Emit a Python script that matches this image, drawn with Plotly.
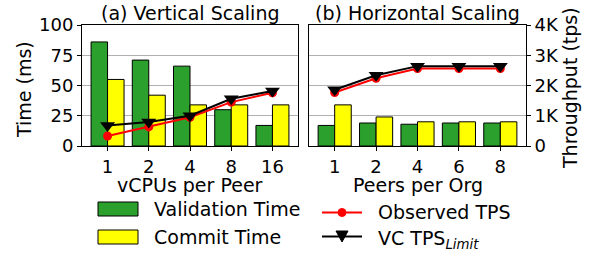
import plotly.graph_objects as go

# ---- data ----
vcpus = ["1", "2", "4", "8", "16"]
peers = ["1", "2", "4", "6", "8"]
vert_validation_ms = [86, 71, 66, 30, 17]
vert_commit_ms = [55, 42, 34, 34, 34]
vert_observed_tps = [330, 630, 950, 1450, 1760]
vert_vc_limit_tps = [680, 790, 1000, 1560, 1820]
horiz_validation_ms = [17, 19, 18, 19, 19]
horiz_commit_ms = [34, 24, 20, 20, 20]
horiz_observed_tps = [1770, 2240, 2560, 2560, 2560]
horiz_vc_limit_tps = [1860, 2340, 2640, 2640, 2640]
time_ticks = [0, 25, 50, 75, 100]
tps_ticks = [0, 1000, 2000, 3000, 4000]
tps_tick_labels = ["0", "1K", "2K", "3K", "4K"]

GREEN = "#2ca02c"
YELLOW = "#ffff00"
FONT = "DejaVu Sans"

W, H = 593, 253
L, R, T, B = 82, 67, 25, 107
PW, PH = W - L - R, H - T - B

def px(x):
    return (x - L) / PW

def py(y):
    return (H - B - y) / PH

fig = go.Figure()

bar_line = dict(color="black", width=1)
fig.add_trace(go.Bar(x=vcpus, y=vert_validation_ms, marker=dict(color=GREEN, line=bar_line),
                     xaxis="x", yaxis="y", showlegend=False))
fig.add_trace(go.Bar(x=vcpus, y=vert_commit_ms, marker=dict(color=YELLOW, line=bar_line),
                     xaxis="x", yaxis="y", showlegend=False))
fig.add_trace(go.Bar(x=peers, y=horiz_validation_ms, marker=dict(color=GREEN, line=bar_line),
                     xaxis="x2", yaxis="y2", showlegend=False))
fig.add_trace(go.Bar(x=peers, y=horiz_commit_ms, marker=dict(color=YELLOW, line=bar_line),
                     xaxis="x2", yaxis="y2", showlegend=False))

for xs, obs, vc, xa, ya in [(vcpus, vert_observed_tps, vert_vc_limit_tps, "x", "y3"),
                            (peers, horiz_observed_tps, horiz_vc_limit_tps, "x2", "y4")]:
    fig.add_trace(go.Scatter(x=xs, y=obs, mode="lines+markers", xaxis=xa, yaxis=ya,
                             line=dict(color="red", width=2),
                             marker=dict(symbol="circle", size=9, color="red"),
                             showlegend=False))
    fig.add_trace(go.Scatter(x=xs, y=vc, mode="lines+markers", xaxis=xa, yaxis=ya,
                             line=dict(color="black", width=2),
                             marker=dict(symbol="triangle-down", size=13, color="black"),
                             showlegend=False))

axis_common = dict(showline=True, linecolor="black", linewidth=1, mirror=True,
                   ticks="outside", ticklen=4, tickcolor="black", automargin=False,
                   tickfont=dict(family=FONT, size=18, color="black"))
x1_dom = [0, px(298)]
x2_dom = [px(309), 1]

fig.update_layout(
    width=W, height=H,
    margin=dict(l=L, r=R, t=T, b=B),
    plot_bgcolor="white", paper_bgcolor="white",
    barmode="group", bargap=0.2, bargroupgap=0,
    font=dict(family=FONT, size=18, color="black"),
    xaxis=dict(domain=x1_dom, type="category", range=[-0.62, 4.62], anchor="y", **axis_common),
    xaxis2=dict(domain=x2_dom, type="category", range=[-0.62, 4.62], anchor="y2", **axis_common),
    yaxis=dict(range=[0, 100], tickvals=time_ticks, anchor="x",
               showgrid=True, gridcolor="#b0b0b0", gridwidth=1, **axis_common),
    yaxis2=dict(range=[0, 100], tickvals=time_ticks, anchor="x2", showticklabels=False,
                showgrid=True, gridcolor="#b0b0b0", gridwidth=1, automargin=False,
                showline=True, linecolor="black", mirror=True, ticks=""),
    yaxis3=dict(range=[0, 4000], overlaying="y", anchor="x", visible=False, automargin=False),
    yaxis4=dict(range=[0, 4000], overlaying="y2", anchor="x2", side="right",
                tickvals=tps_ticks, ticktext=tps_tick_labels, showgrid=False, **axis_common),
)

TXT = dict(family=FONT, size=19, color="black")

def label(text, x, y, angle=0, anchor="center"):
    fig.add_annotation(text=text, xref="paper", yref="paper", x=px(x), y=py(y),
                       showarrow=False, textangle=angle, xanchor=anchor, yanchor="middle",
                       font=TXT, borderpad=0)

# panel titles and axis titles
label("(a) Vertical Scaling", 190, 13)
label("(b) Horizontal Scaling", 417.5, 13)
label("vCPUs per Peer", 190, 185)
label("Peers per Org", 417.5, 185)
label("Time (ms)", 24, 90, angle=-90)
label("Throughput (tps)", 570, 88, angle=-90)

# legend (drawn manually to mimic wide patches)
for color, text, cy in [(GREEN, "Validation Time", 209), (YELLOW, "Commit Time", 237)]:
    fig.add_shape(type="rect", xref="paper", yref="paper",
                  x0=px(98), x1=px(138), y0=py(cy - 7), y1=py(cy + 7),
                  fillcolor=color, line=dict(color="black", width=1))
    label(text, 153, cy, anchor="left")

fig.add_shape(type="line", xref="paper", yref="paper", x0=px(322), x1=px(362),
              y0=py(212.5), y1=py(212.5), line=dict(color="red", width=2))
fig.add_shape(type="circle", xref="paper", yref="paper", x0=px(338), x1=px(346),
              y0=py(216.5), y1=py(208.5), fillcolor="red", line=dict(color="red", width=1))
label("Observed TPS", 377, 212, anchor="left")

fig.add_shape(type="line", xref="paper", yref="paper", x0=px(322), x1=px(362),
              y0=py(236.5), y1=py(236.5), line=dict(color="black", width=2))
fig.add_shape(type="path", xref="paper", yref="paper",
              path=f"M {px(336)},{py(231)} L {px(348)},{py(231)} L {px(342)},{py(242)} Z",
              fillcolor="black", line=dict(color="black", width=1))
label("VC TPS<sub><i>Limit</i></sub>", 377, 239, anchor="left")

fig.write_html("out.html", config={"displayModeBar": False},
               post_script="document.body.style.margin='0';")
